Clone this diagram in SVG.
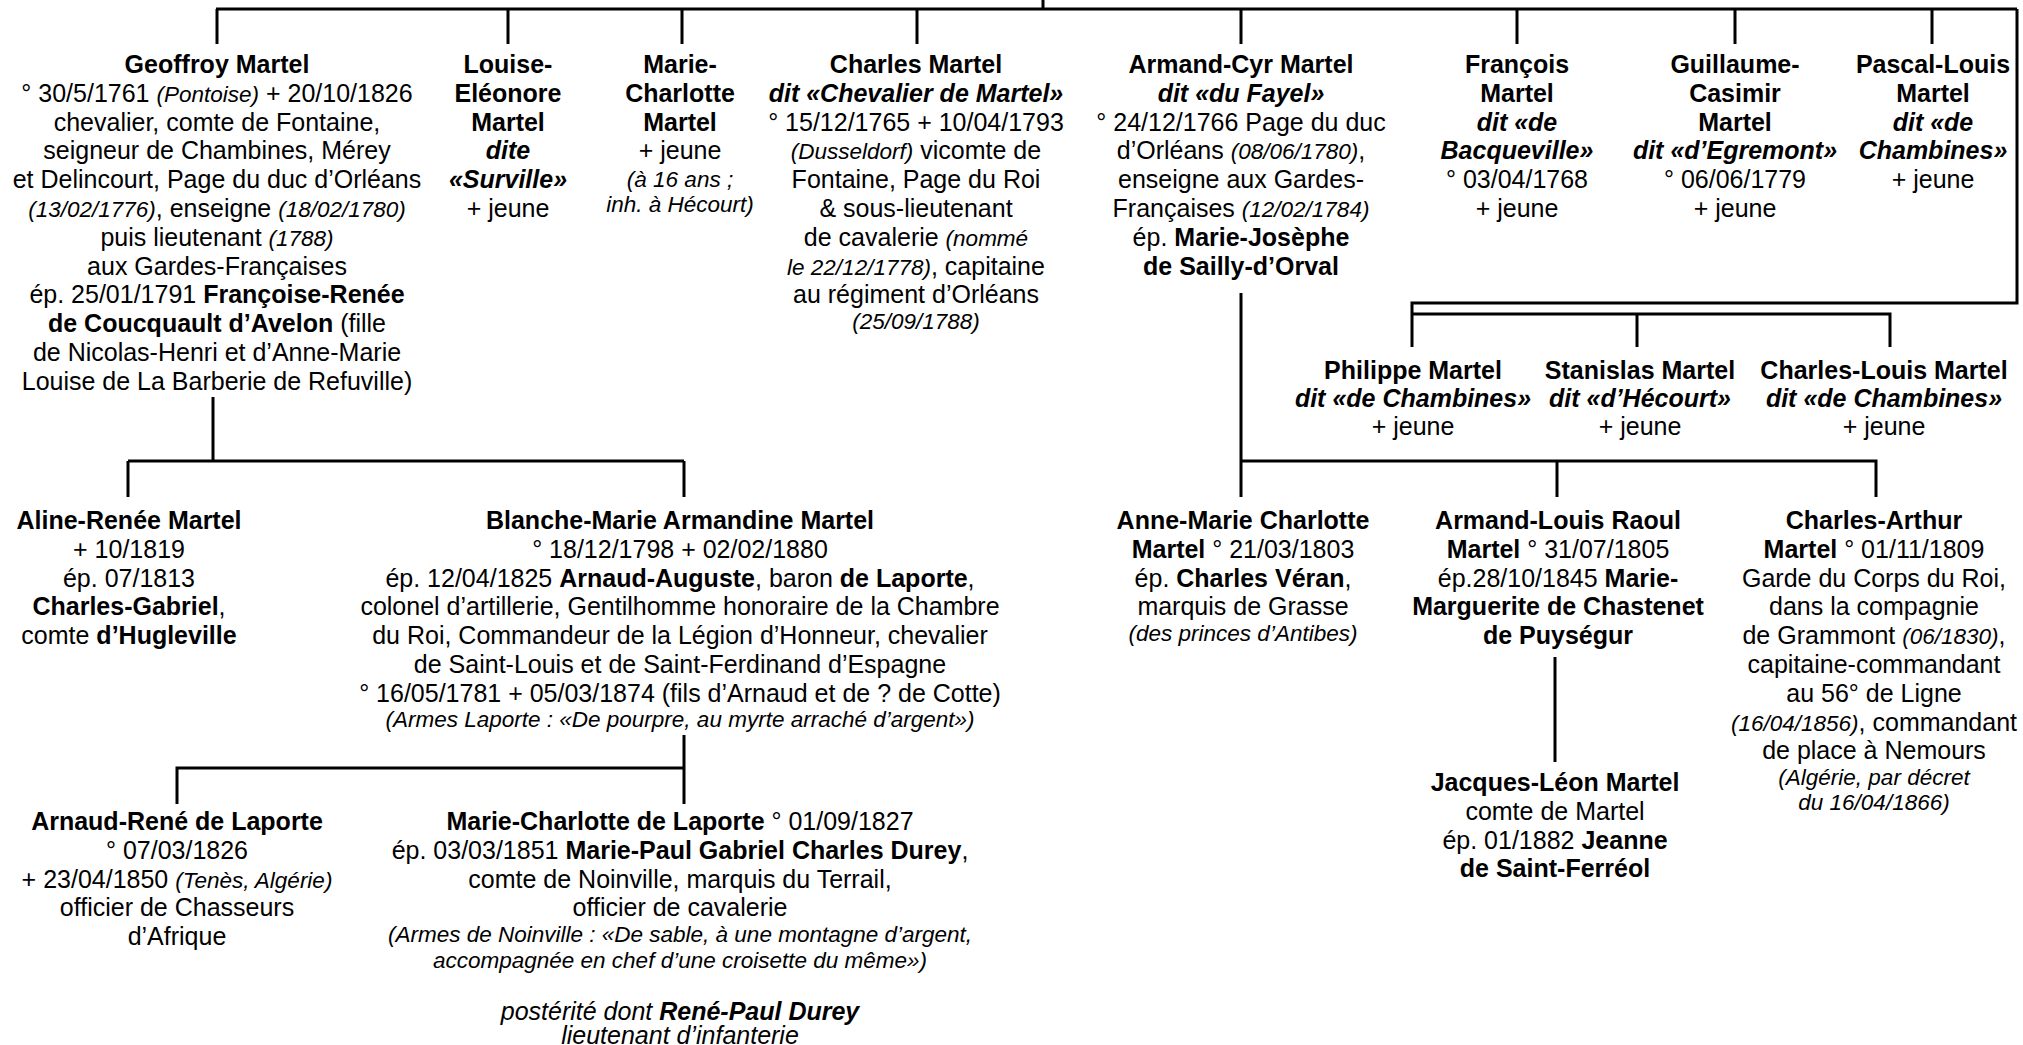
<svg xmlns="http://www.w3.org/2000/svg" width="2023" height="1045" viewBox="0 0 2023 1045">
<style>
text { font-family: "Liberation Sans", Arial, sans-serif; font-size: 25px; text-anchor: middle; fill: #000; }
.b { font-weight: bold; }
.i { font-style: italic; }
.s { font-size: 22.5px; }
#connectors path { stroke: #000; stroke-width: 3; fill: none; }
</style>
<rect width="2023" height="1045" fill="#fff"/>
<g id="connectors">
<path d="M1043 0V9M216 9H2017M217 9V44M508 9V44M682 9V44M917 9V44M1241 9V44M1517 9V44M1735 9V44M1932 9V44"/>
<path d="M2017 9V303H1412V347M1412 314H1890V347M1637 314V347"/>
<path d="M1241 293V497M1241 461H1876V497M1557 461V497"/>
<path d="M1555 657V762"/>
<path d="M213 397V461M128 461H684M128 461V497M684 461V497"/>
<path d="M684 735V804M684 768H177V804"/>
</g>
<g id="geoffroy">
<text x="217" y="73" class="b">Geoffroy Martel</text>
<text x="217" y="101.8">° 30/5/1761 <tspan class="i s">(Pontoise)</tspan> + 20/10/1826</text>
<text x="217" y="130.6">chevalier, comte de Fontaine,</text>
<text x="217" y="159.4">seigneur de Chambines, Mérey</text>
<text x="217" y="188.2">et Delincourt, Page du duc d’Orléans</text>
<text x="217" y="217"><tspan class="i s">(13/02/1776)</tspan>, enseigne <tspan class="i s">(18/02/1780)</tspan></text>
<text x="217" y="245.8">puis lieutenant <tspan class="i s">(1788)</tspan></text>
<text x="217" y="274.6">aux Gardes-Françaises</text>
<text x="217" y="303.4">ép. 25/01/1791 <tspan class="b">Françoise-Renée</tspan></text>
<text x="217" y="332.2"><tspan class="b">de Coucquault d’Avelon</tspan> (fille</text>
<text x="217" y="361">de Nicolas-Henri et d’Anne-Marie</text>
<text x="217" y="389.8">Louise de La Barberie de Refuville)</text>
</g>
<g id="louise">
<text x="508" y="73" class="b">Louise-</text>
<text x="508" y="101.8" class="b">Eléonore</text>
<text x="508" y="130.6" class="b">Martel</text>
<text x="508" y="159.4" class="b i">dite</text>
<text x="508" y="188.2" class="b i">«Surville»</text>
<text x="508" y="217">+ jeune</text>
</g>
<g id="marie-charlotte">
<text x="680" y="73" class="b">Marie-</text>
<text x="680" y="101.8" class="b">Charlotte</text>
<text x="680" y="130.6" class="b">Martel</text>
<text x="680" y="159.4">+ jeune</text>
<text x="680" y="187" class="i s">(à 16 ans ;</text>
<text x="680" y="212" class="i s">inh. à Hécourt)</text>
</g>
<g id="charles">
<text x="916" y="73" class="b">Charles Martel</text>
<text x="916" y="101.8" class="b i">dit «Chevalier de Martel»</text>
<text x="916" y="130.6">° 15/12/1765 + 10/04/1793</text>
<text x="916" y="159.4"><tspan class="i s">(Dusseldorf)</tspan> vicomte de</text>
<text x="916" y="188.2">Fontaine, Page du Roi</text>
<text x="916" y="217">&amp; sous-lieutenant</text>
<text x="916" y="245.8">de cavalerie <tspan class="i s">(nommé</tspan></text>
<text x="916" y="274.6"><tspan class="i s">le 22/12/1778)</tspan>, capitaine</text>
<text x="916" y="303.4">au régiment d’Orléans</text>
<text x="916" y="329" class="i s">(25/09/1788)</text>
</g>
<g id="armand-cyr">
<text x="1241" y="73" class="b">Armand-Cyr Martel</text>
<text x="1241" y="101.8" class="b i">dit «du Fayel»</text>
<text x="1241" y="130.6">° 24/12/1766 Page du duc</text>
<text x="1241" y="159.4">d’Orléans <tspan class="i s">(08/06/1780)</tspan>,</text>
<text x="1241" y="188.2">enseigne aux Gardes-</text>
<text x="1241" y="217">Françaises <tspan class="i s">(12/02/1784)</tspan></text>
<text x="1241" y="245.8">ép. <tspan class="b">Marie-Josèphe</tspan></text>
<text x="1241" y="274.6" class="b">de Sailly-d’Orval</text>
</g>
<g id="francois">
<text x="1517" y="73" class="b">François</text>
<text x="1517" y="101.8" class="b">Martel</text>
<text x="1517" y="130.6" class="b i">dit «de</text>
<text x="1517" y="159.4" class="b i">Bacqueville»</text>
<text x="1517" y="188.2">° 03/04/1768</text>
<text x="1517" y="217">+ jeune</text>
</g>
<g id="guillaume">
<text x="1735" y="73" class="b">Guillaume-</text>
<text x="1735" y="101.8" class="b">Casimir</text>
<text x="1735" y="130.6" class="b">Martel</text>
<text x="1735" y="159.4" class="b i">dit «d’Egremont»</text>
<text x="1735" y="188.2">° 06/06/1779</text>
<text x="1735" y="217">+ jeune</text>
</g>
<g id="pascal-louis">
<text x="1933" y="73" class="b">Pascal-Louis</text>
<text x="1933" y="101.8" class="b">Martel</text>
<text x="1933" y="130.6" class="b i">dit «de</text>
<text x="1933" y="159.4" class="b i">Chambines»</text>
<text x="1933" y="188.2">+ jeune</text>
</g>
<g id="philippe">
<text x="1413" y="379" class="b">Philippe Martel</text>
<text x="1413" y="407" class="b i">dit «de Chambines»</text>
<text x="1413" y="435">+ jeune</text>
</g>
<g id="stanislas">
<text x="1640" y="379" class="b">Stanislas Martel</text>
<text x="1640" y="407" class="b i">dit «d’Hécourt»</text>
<text x="1640" y="435">+ jeune</text>
</g>
<g id="charles-louis">
<text x="1884" y="379" class="b">Charles-Louis Martel</text>
<text x="1884" y="407" class="b i">dit «de Chambines»</text>
<text x="1884" y="435">+ jeune</text>
</g>
<g id="aline">
<text x="129" y="529" class="b">Aline-Renée Martel</text>
<text x="129" y="557.8">+ 10/1819</text>
<text x="129" y="586.6">ép. 07/1813</text>
<text x="129" y="615.4"><tspan class="b">Charles-Gabriel</tspan>,</text>
<text x="129" y="644.2">comte <tspan class="b">d’Hugleville</tspan></text>
</g>
<g id="blanche">
<text x="680" y="529" class="b">Blanche-Marie Armandine Martel</text>
<text x="680" y="557.8">° 18/12/1798 + 02/02/1880</text>
<text x="680" y="586.6">ép. 12/04/1825 <tspan class="b">Arnaud-Auguste</tspan>, baron <tspan class="b">de Laporte</tspan>,</text>
<text x="680" y="615.4">colonel d’artillerie, Gentilhomme honoraire de la Chambre</text>
<text x="680" y="644.2">du Roi, Commandeur de la Légion d’Honneur, chevalier</text>
<text x="680" y="673">de Saint-Louis et de Saint-Ferdinand d’Espagne</text>
<text x="680" y="701.8">° 16/05/1781 + 05/03/1874 (fils d’Arnaud et de ? de Cotte)</text>
<text x="680" y="727" class="i s">(Armes Laporte : «De pourpre, au myrte arraché d’argent»)</text>
</g>
<g id="arnaud-rene">
<text x="177" y="830" class="b">Arnaud-René de Laporte</text>
<text x="177" y="858.8">° 07/03/1826</text>
<text x="177" y="887.6">+ 23/04/1850 <tspan class="i s">(Tenès, Algérie)</tspan></text>
<text x="177" y="916.4">officier de Chasseurs</text>
<text x="177" y="945.2">d’Afrique</text>
</g>
<g id="marie-charlotte-laporte">
<text x="680" y="830"><tspan class="b">Marie-Charlotte de Laporte</tspan> ° 01/09/1827</text>
<text x="680" y="858.8">ép. 03/03/1851 <tspan class="b">Marie-Paul Gabriel Charles Durey</tspan>,</text>
<text x="680" y="887.6">comte de Noinville, marquis du Terrail,</text>
<text x="680" y="916.4">officier de cavalerie</text>
<text x="680" y="942" class="i s">(Armes de Noinville : «De sable, à une montagne d’argent,</text>
<text x="680" y="968" class="i s">accompagnée en chef d’une croisette du même»)</text>
<text x="680" y="1020" class="i">postérité dont <tspan class="b">René-Paul Durey</tspan></text>
<text x="680" y="1044" class="i">lieutenant d’infanterie</text>
</g>
<g id="anne-marie">
<text x="1243" y="529" class="b">Anne-Marie Charlotte</text>
<text x="1243" y="557.8"><tspan class="b">Martel</tspan> ° 21/03/1803</text>
<text x="1243" y="586.6">ép. <tspan class="b">Charles Véran</tspan>,</text>
<text x="1243" y="615.4">marquis de Grasse</text>
<text x="1243" y="641" class="i s">(des princes d’Antibes)</text>
</g>
<g id="armand-louis">
<text x="1558" y="529" class="b">Armand-Louis Raoul</text>
<text x="1558" y="557.8"><tspan class="b">Martel</tspan> ° 31/07/1805</text>
<text x="1558" y="586.6">ép.28/10/1845 <tspan class="b">Marie-</tspan></text>
<text x="1558" y="615.4" class="b">Marguerite de Chastenet</text>
<text x="1558" y="644.2" class="b">de Puységur</text>
</g>
<g id="jacques-leon">
<text x="1555" y="791" class="b">Jacques-Léon Martel</text>
<text x="1555" y="819.8">comte de Martel</text>
<text x="1555" y="848.6">ép. 01/1882 <tspan class="b">Jeanne</tspan></text>
<text x="1555" y="877.4" class="b">de Saint-Ferréol</text>
</g>
<g id="charles-arthur">
<text x="1874" y="529" class="b">Charles-Arthur</text>
<text x="1874" y="557.8"><tspan class="b">Martel</tspan> ° 01/11/1809</text>
<text x="1874" y="586.6">Garde du Corps du Roi,</text>
<text x="1874" y="615.4">dans la compagnie</text>
<text x="1874" y="644.2">de Grammont <tspan class="i s">(06/1830)</tspan>,</text>
<text x="1874" y="673">capitaine-commandant</text>
<text x="1874" y="701.8">au 56° de Ligne</text>
<text x="1874" y="730.6"><tspan class="i s">(16/04/1856)</tspan>, commandant</text>
<text x="1874" y="759.4">de place à Nemours</text>
<text x="1874" y="785" class="i s">(Algérie, par décret</text>
<text x="1874" y="810" class="i s">du 16/04/1866)</text>
</g>
</svg>
